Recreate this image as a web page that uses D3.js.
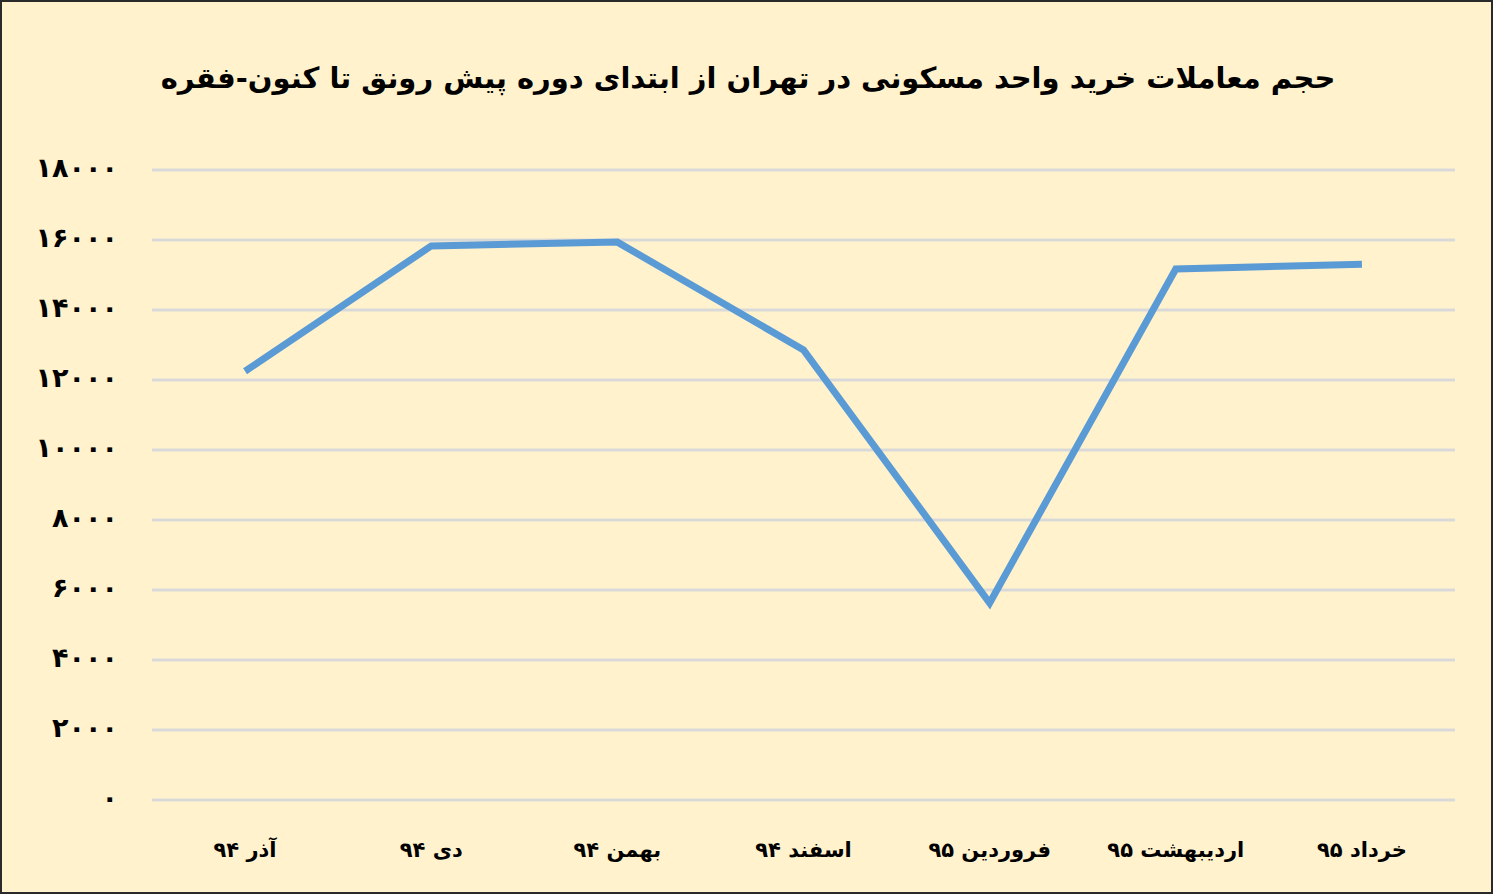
<!DOCTYPE html>
<html>
<head>
<meta charset="utf-8">
<script src="https://cdn.jsdelivr.net/npm/d3@7"></script>
<style>
  body { margin: 0; background: #fff; }
  svg { display: block; }
  text { font-family: "DejaVu Sans", sans-serif; font-weight: bold; fill: #000; }
</style>
</head>
<body>
<div id="chart"></div>
<script>
const months = ["آذر ۹۴", "دی ۹۴", "بهمن ۹۴", "اسفند ۹۴", "فروردین ۹۵", "اردیبهشت ۹۵", "خرداد ۹۵"];
const deals = [12250, 15830, 15940, 12860, 5630, 15170, 15310];
const yTicks = [0, 2000, 4000, 6000, 8000, 10000, 12000, 14000, 16000, 18000];
const title = "حجم معاملات خرید واحد مسکونی در تهران از ابتدای دوره پیش رونق تا کنون-فقره";

const width = 1493;
const height = 894;
const margin = { top: 170, right: 38, bottom: 94, left: 152 };

const toPersian = n => String(n).replace(/\d/g, d => "۰۱۲۳۴۵۶۷۸۹"[d]);

const svg = d3.select("#chart")
  .append("svg")
  .attr("width", width)
  .attr("height", height);

// frame
svg.append("rect")
  .attr("x", 1).attr("y", 1)
  .attr("width", width - 2).attr("height", height - 2)
  .attr("fill", "#FFF2CC")
  .attr("stroke", "#2a2a2a")
  .attr("stroke-width", 2);

const x = d3.scaleBand()
  .domain(months)
  .range([margin.left, width - margin.right]);

const y = d3.scaleLinear()
  .domain([0, 18000])
  .range([height - margin.bottom, margin.top]);

// gridlines
svg.append("g")
  .selectAll("line")
  .data(yTicks)
  .join("line")
  .attr("x1", margin.left)
  .attr("x2", width - margin.right)
  .attr("y1", d => y(d))
  .attr("y2", d => y(d))
  .attr("stroke", "#D9D9D9")
  .attr("stroke-width", 3);

// y axis labels
const yAxis = svg.append("g")
  .attr("transform", `translate(${margin.left - 34},0)`)
  .call(d3.axisLeft(y).tickValues(yTicks).tickSize(0).tickPadding(0).tickFormat(toPersian));
yAxis.select(".domain").remove();
yAxis.selectAll("text")
  .attr("font-size", 27)
  .attr("font-family", "DejaVu Sans, sans-serif")
  .attr("font-weight", "bold")
  .attr("letter-spacing", 1)
  .attr("dy", "0.25em")
  .attr("fill", "#000");

// x axis labels
const xAxis = svg.append("g")
  .attr("transform", `translate(0,${height - margin.bottom + 42})`)
  .call(d3.axisBottom(x).tickSize(0).tickPadding(0));
xAxis.select(".domain").remove();
xAxis.selectAll("text")
  .attr("font-size", 21)
  .attr("font-family", "DejaVu Sans, sans-serif")
  .attr("font-weight", "bold")
  .attr("fill", "#000")
  .attr("direction", "rtl")
  .attr("text-anchor", "middle");

// line
const line = d3.line()
  .x((d, i) => x(months[i]) + x.bandwidth() / 2)
  .y(d => y(d));

svg.append("path")
  .datum(deals)
  .attr("d", line)
  .attr("fill", "none")
  .attr("stroke", "#5B9BD5")
  .attr("stroke-width", 7)
  .attr("stroke-linejoin", "miter")
  .attr("stroke-linecap", "butt");

// title
svg.append("text")
  .attr("x", 748)
  .attr("y", 88)
  .attr("text-anchor", "middle")
  .attr("direction", "rtl")
  .attr("font-size", 29)
  .text(title);
</script>
</body>
</html>
